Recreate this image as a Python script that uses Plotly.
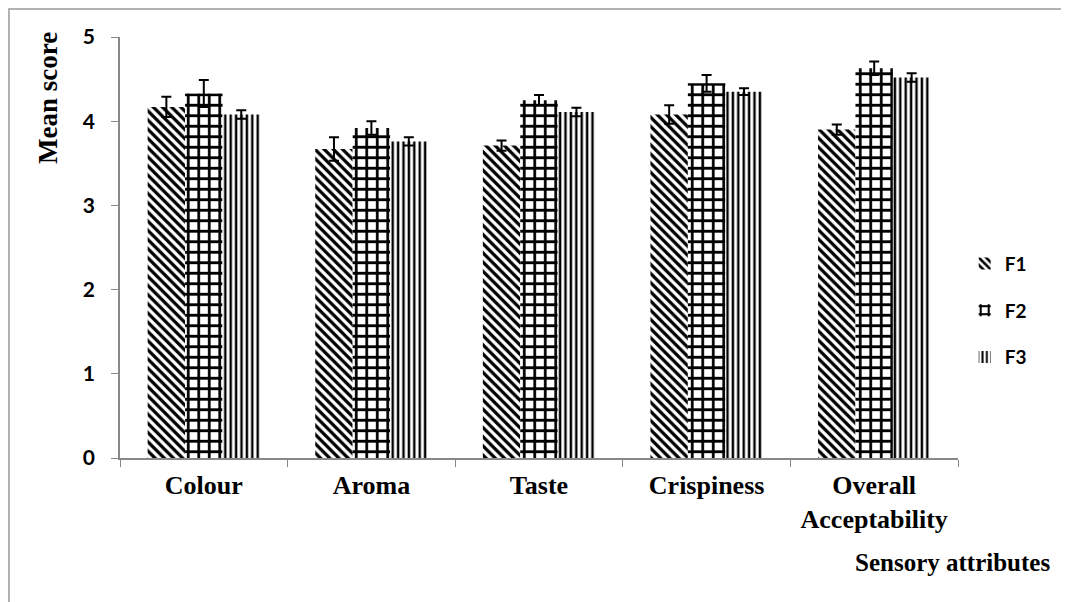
import plotly.graph_objects as go

categories = ["Colour", "Aroma", "Taste", "Crispiness", "Overall Acceptability"]
tick_labels = ["Colour", "Aroma", "Taste", "Crispiness", "Overall<br>Acceptability"]
series_names = ["F1", "F2", "F3"]
f1_values = [4.17, 3.67, 3.71, 4.08, 3.90]
f2_values = [4.33, 3.92, 4.25, 4.45, 4.63]
f3_values = [4.08, 3.76, 4.11, 4.35, 4.52]
f1_err = [0.12, 0.14, 0.06, 0.11, 0.06]
f2_err = [0.16, 0.08, 0.06, 0.10, 0.08]
f3_err = [0.05, 0.05, 0.05, 0.04, 0.05]
y_ticks = [0, 1, 2, 3, 4, 5]

patterns = [
    dict(shape="\\", size=6.5, solidity=0.5),
    dict(shape="+", size=10.5, solidity=0.45),
    dict(shape="|", size=5.4, solidity=0.45),
]

fig = go.Figure()
for i, (name, vals, errs) in enumerate(zip(series_names,
                                           [f1_values, f2_values, f3_values],
                                           [f1_err, f2_err, f3_err])):
    fig.add_trace(go.Bar(
        x=categories, y=vals, name=name, legendgroup=name,
        marker=dict(color="white", line=dict(width=0),
                    pattern=dict(fgcolor="black", bgcolor="white",
                                 fillmode="replace", **patterns[i])),
        error_y=dict(type="data", array=errs, visible=True,
                     color="black", thickness=2, width=5),
    ))

serif = "Liberation Serif"
fig.update_layout(
    width=1069, height=602,
    paper_bgcolor="white", plot_bgcolor="white",
    margin=dict(l=112, r=119, t=29, b=152),
    barmode="group", bargap=0.33, bargroupgap=0,
    showlegend=True,
    legend=dict(x=1.008, y=0.35, xanchor="left", yanchor="middle",
                font=dict(family="Lato", size=19, color="black", weight="bold"),
                tracegroupgap=19, itemwidth=30, bgcolor="rgba(0,0,0,0)"),
    xaxis=dict(
        tickmode="array", tickvals=categories, ticktext=tick_labels,
        tickson="boundaries", ticks="outside", ticklen=7, tickcolor="#888",
        showline=True, linecolor="#888", linewidth=1.5,
        showgrid=False, zeroline=False,
        tickfont=dict(family=serif, size=26, color="black", weight="bold"),
        ticklabelstandoff=3,
    ),
    yaxis=dict(
        range=[0, 5], tickvals=y_ticks,
        ticks="outside", ticklen=7, tickcolor="#888",
        showline=True, linecolor="#888", linewidth=1.5,
        showgrid=False, zeroline=False,
        tickfont=dict(family="Lato", size=21, color="black", weight="bold"),
        ticklabelstandoff=12,
    ),
    annotations=[
        dict(text="Mean score", xref="paper", yref="paper", x=-0.086, y=0.855,
             textangle=-90, showarrow=False, xanchor="center", yanchor="middle",
             font=dict(family=serif, size=27, color="black", weight="bold")),
        dict(text="Sensory attributes", xref="paper", yref="paper", x=0.994, y=-0.249,
             showarrow=False, xanchor="center", yanchor="middle",
             font=dict(family=serif, size=25, color="black", weight="bold")),
    ],
    shapes=[
        dict(type="rect", xref="paper", yref="paper", x0=-0.1325, y0=-0.40,
             x1=1.15, y1=1.0665, line=dict(color="#999", width=1.5),
             fillcolor="rgba(0,0,0,0)", layer="below"),
    ],
)

fig.write_html("out.html")
